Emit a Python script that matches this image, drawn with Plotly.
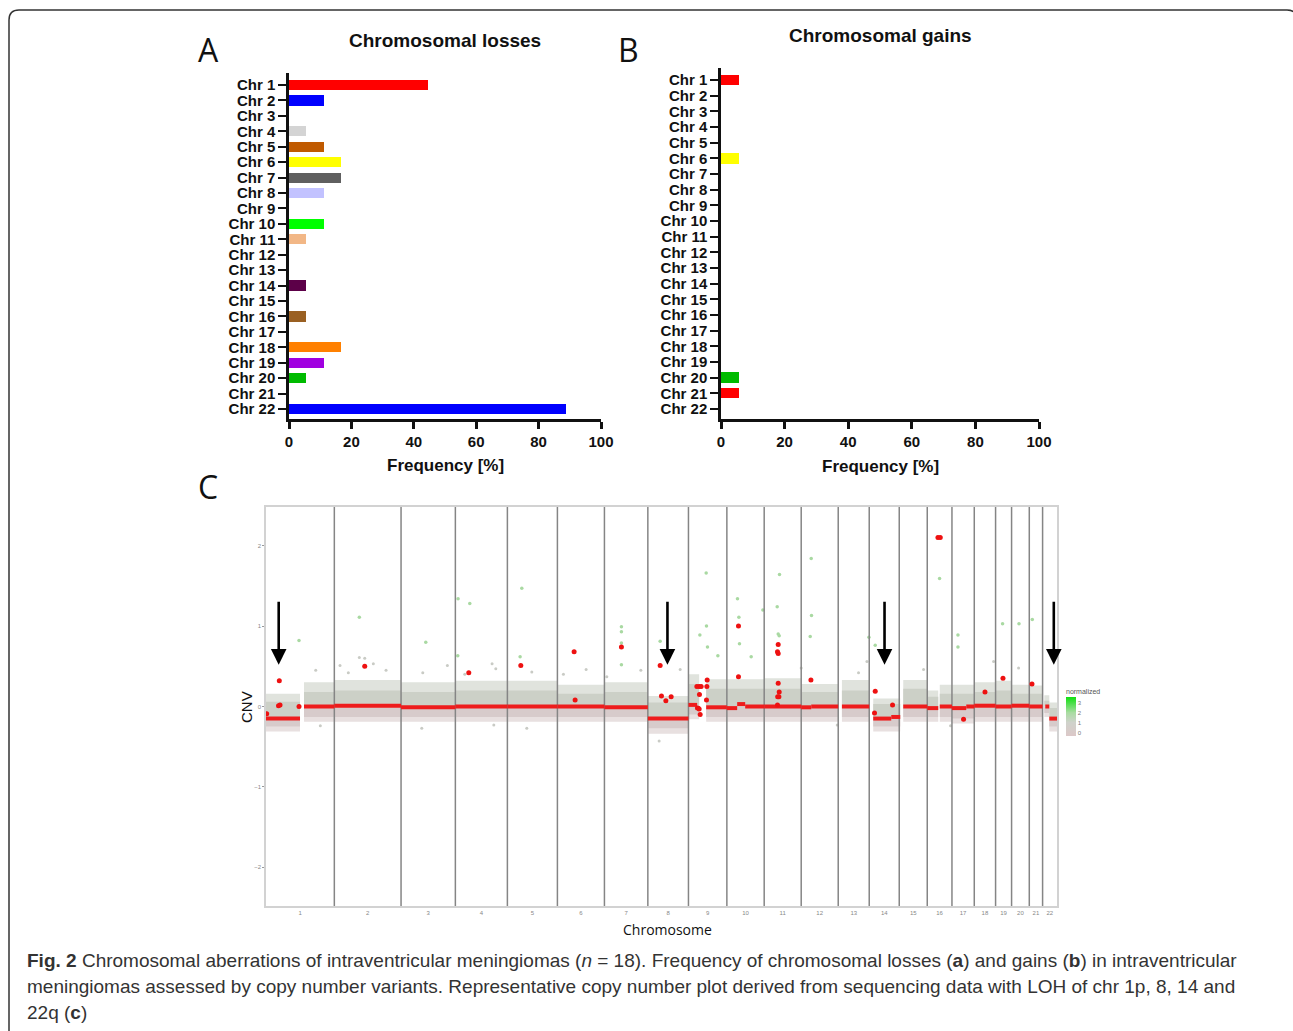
import plotly.graph_objects as go

W, H = 1293, 1031


def px(x):
    return x / W


def py(y):
    return 1 - y / H


# ---------------- Panel A / B data ----------------
chrom_labels = [f"Chr {i}" for i in range(1, 23)]
loss_freq = [44.4, 11.1, 0, 5.6, 11.1, 16.7, 16.7, 11.1, 0, 11.1, 5.6,
             0, 0, 5.6, 0, 5.6, 0, 16.7, 11.1, 5.6, 0, 88.9]
loss_colors = ["#ff0000", "#0000ff", "#ffffff", "#d4d4d4", "#c05a00", "#ffff00",
               "#5f5f5f", "#c2c2ff", "#ffffff", "#00ff00", "#f2b786", "#ffffff",
               "#ffffff", "#5c0048", "#ffffff", "#9a6022", "#ffffff", "#ff8000",
               "#a000e0", "#00bb00", "#ffffff", "#0000ff"]
gain_freq = [5.6, 0, 0, 0, 0, 5.6, 0, 0, 0, 0, 0,
             0, 0, 0, 0, 0, 0, 0, 0, 5.6, 5.6, 0]
gain_colors = ["#ff0000", "#ffffff", "#ffffff", "#ffffff", "#ffffff", "#ffff00",
               "#ffffff", "#ffffff", "#ffffff", "#ffffff", "#ffffff", "#ffffff",
               "#ffffff", "#ffffff", "#ffffff", "#ffffff", "#ffffff", "#ffffff",
               "#ffffff", "#00bb00", "#ff0000", "#ffffff"]
freq_ticks = [0, 20, 40, 60, 80, 100]

# ---------------- Panel C data (genome position units) ----------------
chrom_names = [str(i) for i in range(1, 23)]
chrom_bounds = [0, 68.3, 135, 189.3, 241.3, 291.3, 338.3, 381.7, 422.3, 460.7, 498,
                535, 572, 603, 633, 661, 685.7, 708, 729.3, 745.3, 763, 776.3, 790.7]

# data cloud per region: start, end, mean, dense top/bottom, sparse top/bottom
cloud_start = [0, 38, 68.3, 135, 189.3, 241.3, 291.3, 338.3, 381.7, 422.3, 440, 460.7,
               498, 535, 575.7, 607, 637, 661, 673.5, 685.7, 708, 729.3, 745.3, 763, 778, 783]
cloud_end = [34, 68.3, 135, 189.3, 241.3, 291.3, 338.3, 381.7, 422.3, 433, 460.7, 498,
             535, 572, 603, 634, 661, 672, 685.7, 708, 729.3, 745.3, 763, 776.3, 783, 790.7]
cloud_mean = [-0.15, 0, 0, 0, 0, 0, 0, 0, -0.15, 0.02, 0, 0,
              0, 0, 0, -0.15, 0, -0.02, 0, 0, 0, 0, 0, 0, 0, -0.15]
cloud_top = [0.06, 0.18, 0.20, 0.18, 0.20, 0.20, 0.16, 0.18, 0.05, 0.28, 0.22, 0.22,
             0.22, 0.18, 0.20, 0.03, 0.22, 0.12, 0.16, 0.16, 0.18, 0.20, 0.16, 0.16, 0.07, -0.02]
cloud_bottom = [-0.25, -0.13, -0.13, -0.13, -0.13, -0.13, -0.13, -0.13, -0.27, -0.10, -0.13, -0.13,
                -0.13, -0.13, -0.13, -0.25, -0.13, -0.13, -0.13, -0.15, -0.13, -0.13, -0.13, -0.13, -0.08, -0.25]
cloud_top_sparse = [0.16, 0.30, 0.33, 0.30, 0.32, 0.32, 0.27, 0.30, 0.13, 0.40, 0.34, 0.34,
                    0.35, 0.28, 0.33, 0.10, 0.33, 0.20, 0.27, 0.27, 0.30, 0.32, 0.27, 0.26, 0.14, 0.05]
cloud_bottom_sparse = [-0.31, -0.19, -0.19, -0.19, -0.19, -0.19, -0.19, -0.19, -0.34, -0.16, -0.19, -0.19,
                       -0.19, -0.19, -0.19, -0.31, -0.19, -0.19, -0.19, -0.21, -0.19, -0.19, -0.19, -0.19, -0.13, -0.31]

# segmented copy number (red lines)
seg_start = [0, 38, 68.3, 135, 189.3, 241.3, 291.3, 338.3, 381.7, 422.3, 431, 440,
             460.7, 471, 479, 498, 535, 545, 575.7, 607, 625, 637, 661, 673.5,
             685.7, 700, 708, 729.3, 745.3, 763, 779, 783]
seg_end = [34, 68.3, 135, 189.3, 241.3, 291.3, 338.3, 381.7, 422.3, 431, 434, 460.7,
           471, 479, 498, 535, 545, 572, 603, 625, 634, 661, 672, 685.7,
           700, 708, 729.3, 745.3, 763, 776.3, 783, 790.7]
seg_mean = [-0.15, 0, 0.01, -0.01, 0, 0, 0, -0.01, -0.15, 0.02, -0.02, -0.01,
            -0.02, 0.03, 0, 0, -0.01, 0, 0, -0.15, -0.13, 0, -0.02, 0,
            -0.02, 0, 0.01, 0, 0.01, 0, 0, -0.15]

red_x = [13.3, 12.5, 14, 0.7, 33, 98.7, 202.7, 254.7, 308, 309, 355.3, 394, 395.3,
         399.7, 405, 430.7, 433, 435, 433.3, 431.3, 433, 434, 440.7, 441, 440.3,
         472.3, 472.3, 512, 511.3, 512, 512, 513, 512.7, 511.5, 511.3, 544.7, 609,
         608.3, 626.3, 671.7, 674, 697.3, 718.7, 736.7, 765.7]
red_y = [0.32, 0.01, 0.02, -0.09, 0.0, 0.50, 0.42, 0.51, 0.68, 0.08, 0.74, 0.51, 0.13,
         0.07, 0.12, 0.25, 0.25, 0.25, 0.15, -0.02, -0.03, -0.10, 0.25, 0.33, 0.08,
         1.00, 0.37, 0.77, 0.68, 0.66, 0.29, 0.18, 0.12, 0.12, 0.02, 0.33, 0.19,
         -0.08, 0.02, 2.10, 2.10, -0.16, 0.18, 0.35, 0.28]

green_x = [33, 93.3, 159.7, 192, 203.7, 255.7, 355.3, 355.3, 355.3, 355.3, 191.7, 254,
           394, 440, 440.3, 433.7, 441.3, 451.7, 471.3, 472.7, 473.3, 485, 496.7,
           513.3, 511, 512, 513, 545, 545.3, 544, 602.7, 609, 673.3, 691.7, 691.7,
           736.3, 752.7, 766]
green_y = [0.82, 1.11, 0.80, 1.34, 1.28, 1.47, 0.99, 0.93, 0.79, 0.52, 0.63, 0.62,
           0.81, 1.66, 1.00, 0.89, 0.74, 0.63, 1.34, 1.11, 0.78, 0.62, 1.20,
           1.64, 1.24, 0.90, 0.88, 1.84, 1.13, 0.87, 0.86, 0.76, 1.59, 0.89, 0.74,
           1.03, 1.03, 1.08]

gray_x = [49.7, 74, 82.3, 93.3, 98.7, 107.3, 120, 156.7, 181.3, 198.7, 226, 229.7,
          265.7, 297.3, 320, 340.7, 374.7, 54.3, 155.7, 260.7, 227.7, 393, 414,
          535, 592.3, 600.7, 657.3, 727.3, 752.3, 684.3, 571]
gray_y = [0.45, 0.51, 0.42, 0.61, 0.60, 0.53, 0.45, 0.42, 0.51, 0.40, 0.53, 0.47,
          0.43, 0.40, 0.46, 0.37, 0.45, -0.24, -0.27, -0.27, -0.23, -0.43, 0.46,
          0.48, 0.42, 0.56, 0.46, 0.56, 0.48, -0.24, -0.23]

arrow_x = [12.7, 401.3, 618.3, 787.5]
arrow_tip = 0.52
arrow_tail = 1.32

cnv_ticks = [-2, -1, 0, 1, 2]

# ---------------- Build figure ----------------
fig = go.Figure()

ypos = list(range(22))

fig.add_trace(go.Bar(x=loss_freq, y=ypos, orientation="h", width=0.66,
                     marker=dict(color=loss_colors, line=dict(width=0)),
                     xaxis="x", yaxis="y", showlegend=False))
fig.add_trace(go.Bar(x=gain_freq, y=ypos, orientation="h", width=0.66,
                     marker=dict(color=gain_colors, line=dict(width=0)),
                     xaxis="x2", yaxis="y2", showlegend=False))


def band(tops, bottoms):
    xs, ys = [], []
    for s, e, t, b in zip(cloud_start, cloud_end, tops, bottoms):
        xs += [s, s, e, e, s, None]
        ys += [b, t, t, b, b, None]
    return xs, ys


# sparse outer cloud (lighter), then dense core
for tops, bottoms, col in [
    (cloud_top_sparse, cloud_mean, "#e0e3dd"),
    (cloud_mean, cloud_bottom_sparse, "#e8e0e0"),
    (cloud_top, cloud_mean, "#ccd0c7"),
    (cloud_mean, cloud_bottom, "#d7cbcb"),
]:
    bx, by = band(tops, bottoms)
    fig.add_trace(go.Scatter(x=bx, y=by, fill="toself", mode="lines",
                             line=dict(width=0), fillcolor=col,
                             xaxis="x3", yaxis="y3", showlegend=False, hoverinfo="skip"))

fig.add_trace(go.Scatter(x=gray_x, y=gray_y, mode="markers",
                         marker=dict(size=3, color="#c9cbc5"),
                         xaxis="x3", yaxis="y3", showlegend=False))
fig.add_trace(go.Scatter(x=green_x, y=green_y, mode="markers",
                         marker=dict(size=3.5, color="#a9d9a2"),
                         xaxis="x3", yaxis="y3", showlegend=False))

# chromosome separators
sep_x, sep_y = [], []
for b in chrom_bounds[1:-1]:
    sep_x += [b, b, None]
    sep_y += [-2.48, 2.48, None]
fig.add_trace(go.Scatter(x=sep_x, y=sep_y, mode="lines",
                         line=dict(color="#858585", width=1.5),
                         xaxis="x3", yaxis="y3", showlegend=False, hoverinfo="skip"))

# segments
sx, sy = [], []
for s, e, m in zip(seg_start, seg_end, seg_mean):
    sx += [s, e, None]
    sy += [m, m, None]
fig.add_trace(go.Scatter(x=sx, y=sy, mode="lines",
                         line=dict(color="#ee1c1c", width=4),
                         xaxis="x3", yaxis="y3", showlegend=False))
fig.add_trace(go.Scatter(x=red_x, y=red_y, mode="markers",
                         marker=dict(size=5, color="#ee1111"),
                         xaxis="x3", yaxis="y3", showlegend=False))

# colorbar carrier
fig.add_trace(go.Scatter(
    x=[-100], y=[-100], mode="markers",
    marker=dict(size=1, color=[0], cmin=-0.4, cmax=3.5, opacity=0,
                colorscale=[[0, "#dcc8c8"], [0.35, "#cfd2cb"], [0.6, "#a8dca0"], [1, "#10e010"]],
                showscale=True,
                colorbar=dict(
                    title=dict(text="normalized", side="top",
                               font=dict(size=7, color="#555", family="Liberation Sans")),
                    tickvals=[0, 1, 2, 3], ticks="",
                    tickfont=dict(size=6, color="#777", family="Liberation Sans"),
                    thickness=10, thicknessmode="pixels",
                    len=51, lenmode="pixels",
                    x=px(1066), xanchor="left", xpad=0,
                    y=py(711), yanchor="middle", ypad=0,
                    outlinewidth=0, borderwidth=0)),
    xaxis="x3", yaxis="y3", showlegend=False, hoverinfo="skip"))

bar_font = dict(family="Liberation Sans, Arial, sans-serif", size=15, color="#111", weight="bold")

common_ax = dict(automargin=False, showgrid=False, zeroline=False)

layout = dict(
    width=W, height=H, autosize=False,
    margin=dict(l=0, r=0, t=0, b=0, pad=0, autoexpand=False),
    paper_bgcolor="white", plot_bgcolor="white",
    bargap=0,
    xaxis=dict(common_ax, domain=[px(289), px(601)], range=[0, 100], tickvals=freq_ticks,
               ticks="outside", ticklen=7, tickwidth=2.5, tickcolor="#111",
               showline=True, linewidth=2.5, linecolor="#111",
               tickfont=bar_font, anchor="y"),
    yaxis=dict(common_ax, domain=[py(419), py(73)], range=[21.65, -0.78],
               tickvals=ypos, ticktext=chrom_labels,
               ticks="outside", ticklen=8, tickwidth=2, tickcolor="#111",
               showline=True, linewidth=2.5, linecolor="#111",
               tickfont=bar_font, anchor="x"),
    xaxis2=dict(common_ax, domain=[px(721), px(1039)], range=[0, 100], tickvals=freq_ticks,
                ticks="outside", ticklen=7, tickwidth=2.5, tickcolor="#111",
                showline=True, linewidth=2.5, linecolor="#111",
                tickfont=bar_font, anchor="y2"),
    yaxis2=dict(common_ax, domain=[py(419), py(68)], range=[21.64, -0.77],
                tickvals=ypos, ticktext=chrom_labels,
                ticks="outside", ticklen=8, tickwidth=2, tickcolor="#111",
                showline=True, linewidth=2.5, linecolor="#111",
                tickfont=bar_font, anchor="x2"),
    xaxis3=dict(common_ax, domain=[px(266), px(1057)], range=[0, 790.7],
                tickvals=[(chrom_bounds[i] + chrom_bounds[i + 1]) / 2 for i in range(22)],
                ticktext=chrom_names, ticks="", showline=True, mirror=True,
                linecolor="#d2d2d2", linewidth=1.5,
                tickfont=dict(size=6, color="#888", family="Liberation Sans"),
                anchor="y3"),
    yaxis3=dict(common_ax, domain=[py(906), py(507)], range=[-2.48, 2.48], tickvals=cnv_ticks,
                ticks="outside", ticklen=2, tickcolor="#999", showline=True, mirror=True,
                linecolor="#d2d2d2", linewidth=1.5,
                tickfont=dict(size=6, color="#888", family="Liberation Sans"),
                anchor="x3"),
)
fig.update_layout(**layout)

ann = []
title_font = dict(family="Liberation Sans, Arial, sans-serif", size=19, color="#111", weight="bold")
ann.append(dict(text="Chromosomal losses", x=px(445), y=py(40), font=title_font))
ann.append(dict(text="Chromosomal gains", x=px(880), y=py(35), font=title_font))
ft = dict(family="Liberation Sans, Arial, sans-serif", size=17, color="#111", weight="bold")
ann.append(dict(text="Frequency [%]", x=px(445), y=py(465), font=ft))
ann.append(dict(text="Frequency [%]", x=px(880), y=py(466), font=ft))
lf = dict(family="Open Sans, Liberation Sans, sans-serif", size=32, color="#111")
ann.append(dict(text="A", x=px(208), y=py(50), font=lf))
ann.append(dict(text="B", x=px(628), y=py(50), font=lf))
ann.append(dict(text="C", x=px(208), y=py(486), font=lf))
ann.append(dict(text="CNV", x=px(246), y=py(707), textangle=-90,
                font=dict(family="Liberation Sans", size=15, color="#111")))
ann.append(dict(text="Chromosome", x=px(667), y=py(929),
                font=dict(family="Open Sans, Liberation Sans", size=14, color="#111")))
cap_font = dict(family="Liberation Sans, sans-serif", size=19, color="#333")
cap_lines = [
    "<b>Fig. 2</b> Chromosomal aberrations of intraventricular meningiomas (<i>n</i> = 18). "
    "Frequency of chromosomal losses (<b>a</b>) and gains (<b>b</b>) in intraventricular",
    "meningiomas assessed by copy number variants. Representative copy number plot derived "
    "from sequencing data with LOH of chr 1p, 8, 14 and",
    "22q (<b>c</b>)",
]
for i, t in enumerate(cap_lines):
    ann.append(dict(text=t, x=px(25), y=py(960 + 26 * i), xanchor="left", font=cap_font))

for a in ann:
    a.setdefault("xref", "paper")
    a.setdefault("yref", "paper")
    a.setdefault("showarrow", False)
    a.setdefault("xanchor", "center")
    a.setdefault("yanchor", "middle")

for ax_ in arrow_x:
    ann.append(dict(x=ax_, y=arrow_tip, ax=ax_, ay=arrow_tail, xref="x3", yref="y3",
                    axref="x3", ayref="y3", text="", showarrow=True, arrowhead=2,
                    arrowsize=1.2, arrowwidth=2.6, arrowcolor="#000", standoff=0))

fig.update_layout(annotations=ann)

# figure border with rounded top corners
r = 10
xl, xr = 9, 1297
path = (f"M {px(xl)} {py(1040)} L {px(xl)} {py(10 + r)} Q {px(xl)} {py(10)} {px(xl + r)} {py(10)} "
        f"L {px(xr - r)} {py(10)} Q {px(xr)} {py(10)} {px(xr)} {py(10 + r)} L {px(xr)} {py(1040)}")
fig.add_shape(type="path", path=path, xref="paper", yref="paper",
              line=dict(color="#333", width=1.5))

fig.write_html(
    "out.html",
    config={"displayModeBar": False, "responsive": False},
    default_width="1293px", default_height="1031px",
    post_script="document.body.style.margin='0';document.body.style.overflow='hidden';",
)
